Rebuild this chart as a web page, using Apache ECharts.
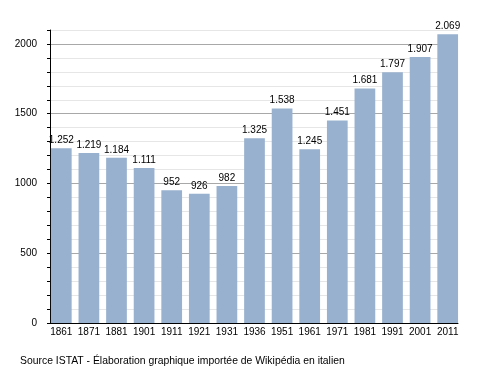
<!DOCTYPE html>
<html>
<head>
<meta charset="utf-8">
<script src="https://cdn.jsdelivr.net/npm/echarts@6/dist/echarts.min.js"></script>
<style>html,body{margin:0;padding:0;background:#fff}#c{width:488px;height:373px}</style>
</head>
<body>
<div id="c"></div>
<script>
const categories = ['1861','1871','1881','1901','1911','1921','1931','1936','1951','1961','1971','1981','1991','2001','2011'];
const population = [1252,1219,1184,1111,952,926,982,1325,1538,1245,1451,1681,1797,1907,2069];
const yTickLabels = [0,500,1000,1500,2000];
const sourceText = 'Source ISTAT - Élaboration graphique importée de Wikipédia en italien';

const FONT = 'Liberation Sans, Arial, sans-serif';
function fmt(v){ return String(v).replace(/\B(?=(\d{3})+(?!\d))/g,'.'); }

const chart = echarts.init(document.getElementById('c'), null, {renderer:'canvas'});
chart.setOption({
  animation:false,
  backgroundColor:'#fff',
  textStyle:{fontFamily:FONT},
  grid:[
    {left:47.5, right:26.5, top:30, bottom:50},
    {left:50, right:30, top:30, bottom:50}
  ],
  xAxis:[
    {type:'category', gridIndex:0, data:categories,
     axisLine:{show:false}, axisTick:{show:false},
     axisLabel:{fontSize:10, color:'#000', margin:4, fontFamily:FONT, interval:0}},
    {type:'value', gridIndex:1, min:0, max:1,
     axisLine:{show:true, lineStyle:{color:'#000', width:1}},
     axisTick:{show:false}, axisLabel:{show:false}, splitLine:{show:false}}
  ],
  yAxis:[
    {type:'value', gridIndex:0, min:0, max:2100, show:false, splitLine:{show:false}},
    {type:'value', gridIndex:1, min:0, max:2100, interval:100,
     axisLine:{show:true, lineStyle:{color:'#000', width:1}},
     axisTick:{show:true, length:3, lineStyle:{color:'#000'}},
     axisLabel:{fontSize:10, color:'#000', margin:13, fontFamily:FONT,
       formatter:function(v){ return yTickLabels.indexOf(v) >= 0 ? String(v) : ''; }},
     splitLine:{show:true, lineStyle:{color:['#a8a8a8','#e6e6e6','#e6e6e6','#e6e6e6','#e6e6e6'], width:1}}}
  ],
  series:[{
    type:'bar', xAxisIndex:0, yAxisIndex:0, data:population,
    barCategoryGap:'25%',
    itemStyle:{color:'#97b1ce'},
    label:{show:true, position:'top', distance:3, fontSize:10, color:'#000', fontFamily:FONT,
      formatter:function(p){ return fmt(p.value); }}
  }],
  graphic:[{type:'text', left:20, top:356, style:{text:sourceText, fontSize:10.4, fill:'#000', fontFamily:FONT}}]
});
</script>
</body>
</html>
